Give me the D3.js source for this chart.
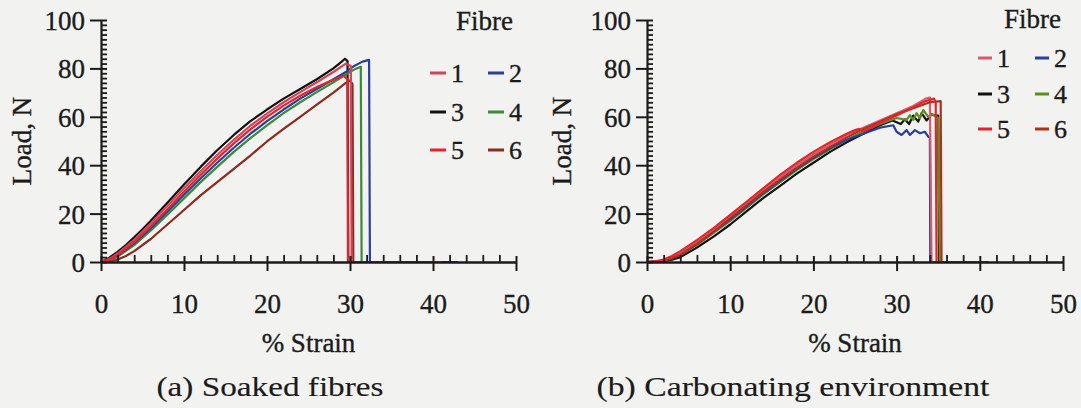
<!DOCTYPE html>
<html>
<head>
<meta charset="utf-8">
<script src="https://cdn.jsdelivr.net/npm/d3@7"></script>
<style>
  html, body { margin: 0; padding: 0; background: #f2f2f0; }
  svg { display: block; }
</style>
</head>
<body>
<svg id="chart" width="1081" height="408"></svg>
<script>
// Axis ticks
const strainTicks = [0, 10, 20, 30, 40, 50];
const loadTicks = [0, 20, 40, 60, 80, 100];
const strainMinor = d3.range(0, 51, 2).filter(v => v % 10 !== 0);
const loadMinor = d3.range(0, 101, 2).filter(v => v % 20 !== 0);
const fibres = ["1", "2", "3", "4", "5", "6"];

// Soaked fibres: [% strain, load N]
const soaked1 = [[0,0],[1,1.2],[2,3.5],[4,9.2],[6,16],[8,23.2],[10,30.5],[12,37.5],[14,44.2],[16,50.5],[18,56.3],[20,61.3],[22,66],[24,70.2],[26,74.3],[28,78.5],[29.5,82],[30.1,81],[30.2,0],[41,0]];
const soaked2 = [[0,0],[1,0.8],[2,2.6],[4,7.8],[6,14],[8,20.8],[10,27.8],[12,34.5],[14,41],[16,47.2],[18,53],[20,58.2],[22,63],[24,67.5],[26,71.5],[28,75.5],[29.5,78.5],[30.5,81],[31.5,82.8],[32.3,83.5],[32.4,0],[43,0]];
const soaked3 = [[0,0],[0.5,0.8],[1,1.8],[2,4.2],[3,7],[4,10.2],[5,13.5],[6,17],[8,24.5],[10,32],[12,39.3],[14,46.2],[16,52.5],[18,58.2],[20,63],[22,67.5],[24,71.5],[26,75.5],[28,80],[29,82.8],[29.4,84],[29.7,83],[29.8,0],[42,0]];
const soaked4 = [[0,0],[1,0.6],[2,2.2],[4,7],[6,13],[8,19.5],[10,26.3],[12,33],[14,39.3],[16,45.5],[18,51.2],[20,56.5],[22,61.5],[24,66],[26,70.2],[28,74.3],[29.5,77.5],[30.5,79.5],[31.3,80.7],[31.4,0],[42,0]];
const soaked5 = [[0,0],[1,0.8],[2,2.8],[4,8.2],[6,14.8],[8,21.8],[10,29],[12,36],[14,42.7],[16,49],[18,54.8],[20,60],[22,64.6],[24,68.7],[26,72.3],[28,75.3],[29.2,77],[29.7,75.5],[29.75,0],[40,0]];
const soaked6 = [[0,0],[1,0.2],[2,1],[3,2.5],[4,4.5],[6,9.5],[8,15.5],[10,21.5],[12,27.5],[14,33],[16,38.5],[18,44],[20,49.8],[22,55],[24,60],[26,65],[28,70],[29.5,74],[30,75],[30.3,73.5],[30.4,0],[42,0]];

// Carbonating environment: [% strain, load N]
const carb1 = [[0,0],[2,0.5],[4,3.5],[6,8],[8,13],[10,18.5],[12,24],[14,29.5],[16,35],[18,40],[20,44.5],[22,48.5],[24,52.5],[26,55.5],[28,58.5],[30,61.5],[32,64.5],[33.5,67.5],[34,68],[34.2,0],[41,0]];
const carb2 = [[0,0],[2,0.5],[4,3.2],[6,7.5],[8,12.5],[10,17.5],[12,23],[14,28.5],[16,33.5],[18,38.5],[20,43],[22,47],[24,50.5],[26,53],[28,55.5],[29.6,56.5],[30,53.8],[30.6,52.5],[31.2,54.5],[31.6,52.5],[32.2,54.5],[32.8,53.2],[33.4,53.8],[33.8,51.8],[34,51.5],[34.05,0],[41,0]];
const carb3 = [[0,0],[2,0.3],[3,1],[4,2],[6,6],[8,10.5],[10,15.5],[12,21],[14,26.5],[16,31.5],[18,36.5],[20,41],[22,45.5],[24,49.5],[26,53],[28,56.5],[29.5,58.5],[30.5,57],[31,59],[31.5,57],[32,60.5],[32.6,58],[33,61.5],[33.6,58.5],[34.2,61],[34.6,60.5],[35,60.5],[35.1,0],[41,0]];
const carb4 = [[0,0],[2,0.5],[4,3],[6,7],[8,12],[10,17],[12,22.5],[14,28],[16,33],[18,38],[20,42.5],[22,46.5],[24,50.5],[26,54],[28,57],[30,59.5],[31.2,58.7],[31.6,60.7],[32,58.7],[32.4,61.5],[32.8,59.4],[33.2,62.8],[33.8,60],[34.3,61],[35,59.5],[35.2,0],[41,0]];
const carb5 = [[0,0],[1,0.3],[2,1],[3,2.5],[4,4.5],[6,9],[8,14],[10,19.5],[12,25],[14,30.5],[16,36],[18,41],[20,45.5],[22,49.5],[24,53],[25,54.5],[25.5,55],[26,54],[27,55.5],[28,57.5],[30,60.5],[32,64],[33.5,66.5],[34.5,67.5],[34.7,66],[34.8,0],[41,0]];
const carb6 = [[0,0],[2,0.5],[3,1.5],[4,3],[6,7.5],[8,12.5],[10,18],[12,23.5],[14,29],[16,34],[18,39],[20,43.5],[22,47.5],[24,51.5],[26,55],[28,58],[30,61],[32,63.5],[34,66],[35.3,66.5],[35.4,0],[41,0]];

const soakedColors = ["#d0455e", "#2b3f9a", "#121212", "#3a8a3a", "#e0262b", "#8b2a1e"];
const carbColors = ["#d85a70", "#2b3f9a", "#121212", "#5e8e1e", "#e0262b", "#b0301e"];

const FONT = "Liberation Serif";
const INK = "#1b1b1b";

const svg = d3.select("#chart");

// serif text helper
function label(sel, size) {
  return sel.append("text")
    .attr("font-family", FONT)
    .style("font-family", FONT)
    .attr("font-size", size)
    .attr("fill", INK)
    .attr("stroke", INK)
    .attr("stroke-width", 0.35);
}

const panels = [
  {
    series: [soaked1, soaked2, soaked3, soaked4, soaked5, soaked6],
    colors: soakedColors,
    order: [2, 5, 3, 1, 0, 4],
    left: 101, right: 516, top: 20, bottom: 262,
    yLabelX: 22,
    caption: "(a) Soaked fibres", captionX: 270, captionW: 227,
    fibreX: 456, fibreY: 30,
    legCols: [430, 488], legRows: [82, 121, 159], dashW: 16
  },
  {
    series: [carb1, carb2, carb3, carb4, carb5, carb6],
    colors: carbColors,
    order: [2, 3, 1, 0, 5, 4],
    left: 647, right: 1063, top: 20, bottom: 262,
    yLabelX: 562,
    caption: "(b) Carbonating environment", captionX: 793, captionW: 393,
    fibreX: 1004, fibreY: 28,
    legCols: [978, 1035], legRows: [67, 103, 138], dashW: 14
  }
];

panels.forEach(p => {
  const x = d3.scaleLinear().domain([0, 50]).range([p.left, p.right]);
  const y = d3.scaleLinear().domain([0, 100]).range([p.bottom, p.top]);
  const g = svg.append("g");

  // curves
  const line = d3.line().x(d => x(d[0])).y(d => y(d[1]));
  p.order.forEach(i => {
    g.append("path")
      .datum(p.series[i])
      .attr("d", line)
      .attr("fill", "none")
      .attr("stroke", p.colors[i])
      .attr("stroke-width", 2.2)
      .attr("stroke-linejoin", "round");
  });

  // x axis: major ticks cross the axis, minor ticks sit above it
  const xMinor = g.append("g").attr("transform", `translate(0,${p.bottom})`)
    .call(d3.axisBottom(x).tickValues(strainMinor).tickSize(-7).tickFormat(""));
  xMinor.select(".domain").remove();
  xMinor.selectAll(".tick line").attr("stroke", INK).attr("stroke-width", 1.8);

  const xAxis = g.append("g").attr("transform", `translate(0,${p.bottom})`)
    .call(d3.axisBottom(x).tickValues(strainTicks).tickSize(9).tickSizeOuter(0));
  xAxis.attr("font-family", FONT);
  xAxis.select(".domain").attr("stroke", INK).attr("stroke-width", 2.5);
  xAxis.selectAll(".tick line").attr("y1", -6).attr("stroke", INK).attr("stroke-width", 2);
  xAxis.selectAll(".tick text")
    .attr("y", 51).attr("dy", null)
    .attr("font-size", 27)
    .style("font-family", FONT)
    .attr("fill", INK).attr("stroke", INK).attr("stroke-width", 0.35);

  // y axis: major ticks cross the axis, minor ticks point right
  const yMinor = g.append("g").attr("transform", `translate(${p.left},0)`)
    .call(d3.axisRight(y).tickValues(loadMinor).tickSize(6).tickFormat(""));
  yMinor.select(".domain").remove();
  yMinor.selectAll(".tick line").attr("stroke", INK).attr("stroke-width", 1.8);

  const yAxis = g.append("g").attr("transform", `translate(${p.left},0)`)
    .call(d3.axisLeft(y).tickValues(loadTicks).tickSize(11).tickSizeOuter(0));
  yAxis.attr("font-family", FONT);
  yAxis.select(".domain").attr("stroke", INK).attr("stroke-width", 2.2);
  yAxis.selectAll(".tick line").attr("x1", 6).attr("stroke", INK).attr("stroke-width", 2);
  yAxis.selectAll(".tick text")
    .attr("x", -16).attr("dy", "0.35em")
    .attr("font-size", 27)
    .style("font-family", FONT)
    .attr("fill", INK).attr("stroke", INK).attr("stroke-width", 0.35);

  // axis titles
  label(g, 27)
    .attr("transform", `translate(${p.yLabelX + 9},141) rotate(-90)`)
    .attr("text-anchor", "middle")
    .text("Load, N");

  label(g, 27)
    .attr("x", (p.left + p.right) / 2).attr("y", 352)
    .attr("text-anchor", "middle")
    .text("% Strain");

  // caption
  label(g, 28)
    .attr("x", p.captionX).attr("y", 396)
    .attr("text-anchor", "middle")
    .attr("stroke-width", 0.15)
    .attr("textLength", p.captionW)
    .attr("lengthAdjust", "spacingAndGlyphs")
    .text(p.caption);

  // legend
  const leg = g.append("g");
  label(leg, 27)
    .attr("x", p.fibreX).attr("y", p.fibreY)
    .text("Fibre");
  fibres.forEach((f, i) => {
    const cx = p.legCols[i % 2];
    const ry = p.legRows[Math.floor(i / 2)];
    leg.append("line")
      .attr("x1", cx).attr("x2", cx + p.dashW)
      .attr("y1", ry - 9).attr("y2", ry - 9)
      .attr("stroke", p.colors[i])
      .attr("stroke-width", 3);
    label(leg, 26)
      .attr("x", cx + p.dashW + 5).attr("y", ry)
      .text(f);
  });
});
</script>
</body>
</html>
